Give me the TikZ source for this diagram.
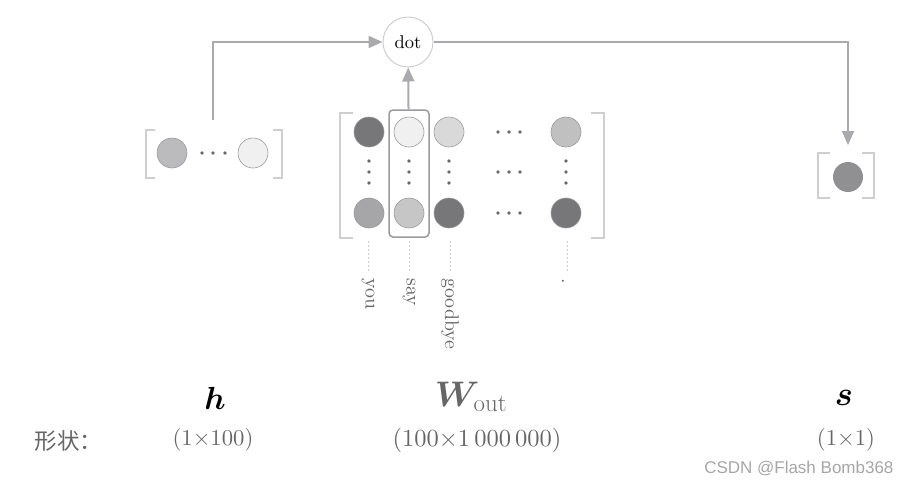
\RequirePackage{fix-cm}
\documentclass[tikz,border=0pt]{standalone}
\usepackage{amsmath,bm}
\usepackage{fontspec}
\newfontfamily\lmten{lmroman10-regular.otf}
\newfontfamily\cjkfont{Noto Sans CJK SC}
\newfontfamily\wmfont{Liberation Sans}
\usetikzlibrary{arrows.meta}
\definecolor{linegray}{HTML}{AAAAAE}
\definecolor{brkgray}{HTML}{CFCFCF}
\definecolor{cellline}{HTML}{9A9A9C}
\definecolor{dotgray}{HTML}{6A6A6C}
\definecolor{txtgray}{HTML}{666666}
\definecolor{cA}{HTML}{77777A}
\definecolor{cB}{HTML}{A6A6A8}
\definecolor{cC}{HTML}{F0F0F0}
\definecolor{cD}{HTML}{C6C6C7}
\definecolor{cE}{HTML}{D9D9DA}
\definecolor{cF}{HTML}{C0C0C1}
\definecolor{cG}{HTML}{BBBBBD}
\definecolor{cS}{HTML}{909092}
\begin{document}
\begin{tikzpicture}[x=1pt,y=-1pt]
\useasboundingbox (0,0) rectangle (900,485);
\tikzset{
  cell/.style={circle, draw=cellline, line width=0.6pt, minimum size=30pt, inner sep=0pt},
  sdot/.style={circle, fill=dotgray, inner sep=0pt, minimum size=3.6pt},
  brk/.style={draw=brkgray, line width=1.3pt},
  conn/.style={draw=linegray, line width=2pt, -{Triangle[length=14pt,width=12pt,fill=linegray]}},
  guide/.style={draw=brkgray, line width=0.8pt, dash pattern=on 2pt off 2pt},
  vlabel/.style={rotate=-90, anchor=west, inner sep=0pt, text=txtgray, font=\lmten\fontsize{19.8}{24}\selectfont},
  shape lbl/.style={text=txtgray, font=\lmten\fontsize{22.7}{26}\selectfont},
}
% dot node
\node[circle, draw=brkgray, line width=1pt, fill=white, minimum size=50pt, inner sep=0pt,
      font=\lmten\fontsize{18.5}{22}\selectfont] (dot) at (408,42) {dot};

% h vector
\draw[brk] (155,130) -- (146,130) -- (146,178) -- (155,178);
\draw[brk] (273,130) -- (282,130) -- (282,178) -- (273,178);
\node[cell, fill=cG] (h1) at (172,153) {};
\node[cell, fill=cC] (h2) at (253,153) {};
\foreach \x [count=\i] in {202,213,225} \node[sdot] (hd\i) at (\x,153) {};
\coordinate (hstart) at (213,120);

% W matrix
\draw[brk] (353,113) -- (340,113) -- (340,238) -- (353,238);
\draw[brk] (591,113) -- (604,113) -- (604,238) -- (591,238);
\node[draw=cellline, line width=1.5pt, rounded corners=4pt, minimum width=40pt, minimum height=127pt, inner sep=0pt] (saybox) at (409,173.5) {};
\node[cell, fill=cA] (w11) at (369,132) {};
\node[cell, fill=cB] (w21) at (369,213) {};
\node[cell, fill=cC] (w12) at (409,132) {};
\node[cell, fill=cD] (w22) at (409,213) {};
\node[cell, fill=cE] (w13) at (449,132) {};
\node[cell, fill=cA] (w23) at (449,213) {};
\node[cell, fill=cF] (w14) at (566,132) {};
\node[cell, fill=cA] (w24) at (566,213) {};
\foreach \x in {369,409,449,566}
  \foreach \y in {161,172,183}
    \node[sdot] at (\x,\y) {};
\foreach \x in {498,509,520}
  \foreach \y in {132,172,213}
    \node[sdot] at (\x,\y) {};

% guides and word labels
\foreach \x in {368,409,450,567} \draw[guide] (\x,241) -- (\x,273);
\node[vlabel] (lyou) at (368,278) {you};
\node[vlabel] (lsay) at (409,278) {say};
\node[vlabel] (lgood) at (450,278) {goodbye};
\node[vlabel] (ldot) at (563,278) {.};

% s vector
\draw[brk] (830,153) -- (818,153) -- (818,198) -- (830,198);
\draw[brk] (862,153) -- (874,153) -- (874,198) -- (862,198);
\node[circle, fill=cS, minimum size=30pt, inner sep=0pt] (s1) at (848,177) {};
\coordinate (send) at (848,145);

% connectors
\draw[conn] (hstart) |- (dot);
\draw[conn] (saybox) -- (dot);
\draw[conn] (dot) -| (send);

% bottom labels
\node[font=\fontsize{32}{36}\selectfont] (hlab) at (215,398) {$\bm{h}$};
\node[text=txtgray, font=\fontsize{35.5}{40}\selectfont] (wlab) at (471,397) {$\bm{W}_{\mathrm{out}}$};
\node[font=\fontsize{34}{38}\selectfont] (slab) at (844,398) {$\bm{s}$};
\node[shape lbl, anchor=west, font=\cjkfont\fontsize{22.5}{26}\selectfont] (xz) at (31,441) {形状：};
\node[shape lbl] (hs) at (213,440) {(1×100)};
\node[shape lbl, font=\lmten\fontsize{24.5}{30}\selectfont] (ws) at (477,440) {(100×1\,000\,000)};
\node[shape lbl] (ss) at (846,440) {(1×1)};
\node[text=black!35, font=\wmfont\fontsize{17}{20}\selectfont, anchor=east] (wm) at (897,469) {CSDN @Flash Bomb368};
\end{tikzpicture}
\end{document}
